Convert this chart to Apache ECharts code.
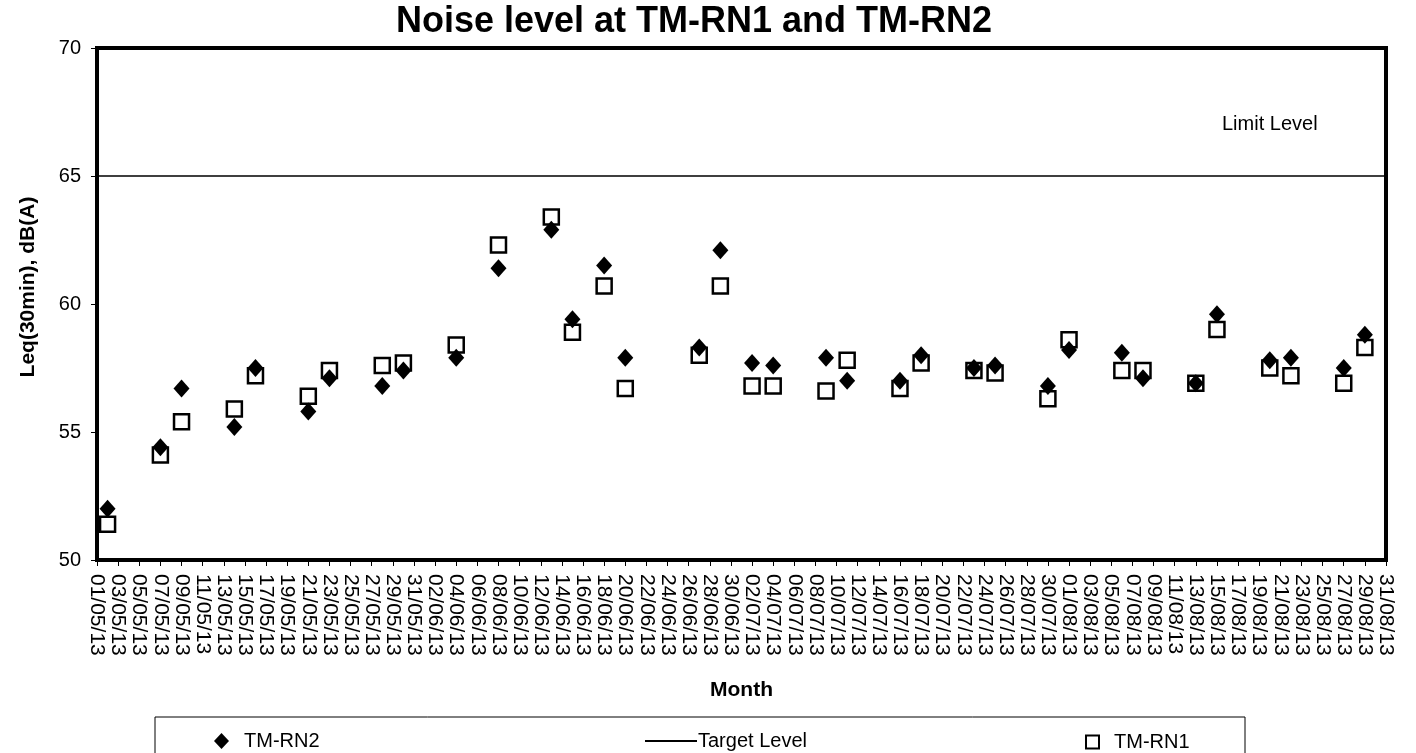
<!DOCTYPE html>
<html><head><meta charset="utf-8">
<script src="https://cdn.jsdelivr.net/npm/echarts@6/dist/echarts.min.js"></script>
<style>html,body{margin:0;padding:0;background:#fff}#c{width:1416px;height:753px}</style>
</head><body><div id="c"></div>
<script>
// ---- data ----
const firstDay = [2013, 5, 1];   // axis start (dd/mm/yy labels generated day by day)
const lastDay  = [2013, 8, 31];  // axis end
const measureDates = ['02/05/13','07/05/13','09/05/13','14/05/13','16/05/13','21/05/13','23/05/13','28/05/13','30/05/13','04/06/13',
  '08/06/13','13/06/13','15/06/13','18/06/13','20/06/13','27/06/13','29/06/13','02/07/13','04/07/13','09/07/13',
  '11/07/13','16/07/13','18/07/13','23/07/13','25/07/13','30/07/13','01/08/13','06/08/13','08/08/13','13/08/13',
  '15/08/13','20/08/13','22/08/13','27/08/13','29/08/13'];
const rn2 = [52.0,54.4,56.7,55.2,57.5,55.8,57.1,56.8,57.4,57.9,
  61.4,62.9,59.4,61.5,57.9,58.3,62.1,57.7,57.6,57.9,
  57.0,57.0,58.0,57.5,57.6,56.8,58.2,58.1,57.1,56.9,
  59.6,57.8,57.9,57.5,58.8];
const rn1 = [51.4,54.1,55.4,55.9,57.2,56.4,57.4,57.6,57.7,58.4,
  62.3,63.4,58.9,60.7,56.7,58.0,60.7,56.8,56.8,56.6,
  57.8,56.7,57.7,57.4,57.3,56.3,58.6,57.4,57.4,56.9,
  59.0,57.5,57.2,56.9,58.3];
const targetLevel = 65;
const yMin = 50, yMax = 70, yStep = 5;

// ---- categories (every day) ----
function pad(n){return (n<10?'0':'')+n;}
const categories = [];
for (let t = Date.UTC(firstDay[0], firstDay[1]-1, firstDay[2]); t <= Date.UTC(lastDay[0], lastDay[1]-1, lastDay[2]); t += 86400000) {
  const d = new Date(t);
  categories.push(pad(d.getUTCDate()) + '/' + pad(d.getUTCMonth()+1) + '/' + String(d.getUTCFullYear()).slice(2));
}

const FONT = '"Liberation Sans", Arial, sans-serif';
const chart = echarts.init(document.getElementById('c'));
chart.setOption({
  animation: false,
  backgroundColor: '#fff',
  title: {
    text: 'Noise level at TM-RN1 and TM-RN2', left: 689, top: -1, textAlign: 'center',
    textStyle: {fontFamily: FONT, fontWeight: 'bold', fontSize: 36, color: '#000'}
  },
  grid: {left: 97, right: 30, top: 48, bottom: 193, show: true, borderColor: '#000', borderWidth: 4},
  xAxis: {
    type: 'category', data: categories, boundaryGap: false,
    axisLine: {lineStyle: {color: '#000', width: 4}},
    axisTick: {interval: 1, length: 6, lineStyle: {color: '#000', width: 1}},
    axisLabel: {interval: 1, rotate: -90, fontFamily: FONT, fontSize: 21, color: '#000', margin: 14},
    splitLine: {show: false},
    name: 'Month', nameLocation: 'middle', nameGap: 120,
    nameTextStyle: {fontFamily: FONT, fontWeight: 'bold', fontSize: 21, color: '#000'}
  },
  yAxis: {
    type: 'value', min: yMin, max: yMax, interval: yStep,
    axisLine: {show: true, lineStyle: {color: '#000', width: 4}},
    axisTick: {show: true, length: 6, lineStyle: {color: '#000', width: 1}},
    axisLabel: {fontFamily: FONT, fontSize: 20, color: '#000', margin: 16},
    splitLine: {show: false},
    name: 'Leq(30min), dB(A)', nameLocation: 'middle', nameGap: 58,
    nameTextStyle: {fontFamily: FONT, fontWeight: 'bold', fontSize: 21, color: '#000', padding: [0, 0, 0, 34]}
  },
  legend: [
    {data: ['TM-RN2'], left: 209, top: 726, icon: 'diamond', itemWidth: 15, itemHeight: 16,
     itemStyle: {color: '#000', opacity: 1},
     textStyle: {fontFamily: FONT, fontSize: 20, color: '#000', padding: [0,0,0,10]}},
    {data: ['Target Level'], left: 640, top: 726, icon: 'rect', itemWidth: 52, itemHeight: 2,
     itemStyle: {color: '#000'}, textStyle: {fontFamily: FONT, fontSize: 20, color: '#000', padding: [0,0,0,-4]}},
    {data: ['TM-RN1'], left: 1080, top: 727, icon: 'rect', itemWidth: 13, itemHeight: 13,
     textStyle: {fontFamily: FONT, fontSize: 20, color: '#000', padding: [0,0,0,10]}}
  ],
  graphic: [
    {type: 'rect', shape: {x: 155, y: 717, width: 1090, height: 45}, style: {fill: 'none', stroke: '#000', lineWidth: 1}, silent: true},
    {type: 'text', x: 1222, y: 114, style: {text: 'Limit Level', font: '20px "Liberation Sans", Arial, sans-serif', fill: '#000'}, silent: true}
  ],
  series: [
    {name: 'Target Level', type: 'line', data: categories.map(() => targetLevel), symbol: 'none',
     lineStyle: {color: '#000', width: 1.5}, itemStyle: {color: '#000'}, z: 1},
    {name: 'TM-RN1', type: 'scatter', data: measureDates.map((d, i) => [d, rn1[i]]), symbol: 'rect', symbolSize: 15,
     itemStyle: {color: '#fff', borderColor: '#000', borderWidth: 2.5, opacity: 1}, z: 2},
    {name: 'TM-RN2', type: 'scatter', data: measureDates.map((d, i) => [d, rn2[i]]), symbol: 'diamond', symbolSize: [16, 18],
     itemStyle: {color: '#000', opacity: 1}, z: 3}
  ]
});
</script></body></html>
